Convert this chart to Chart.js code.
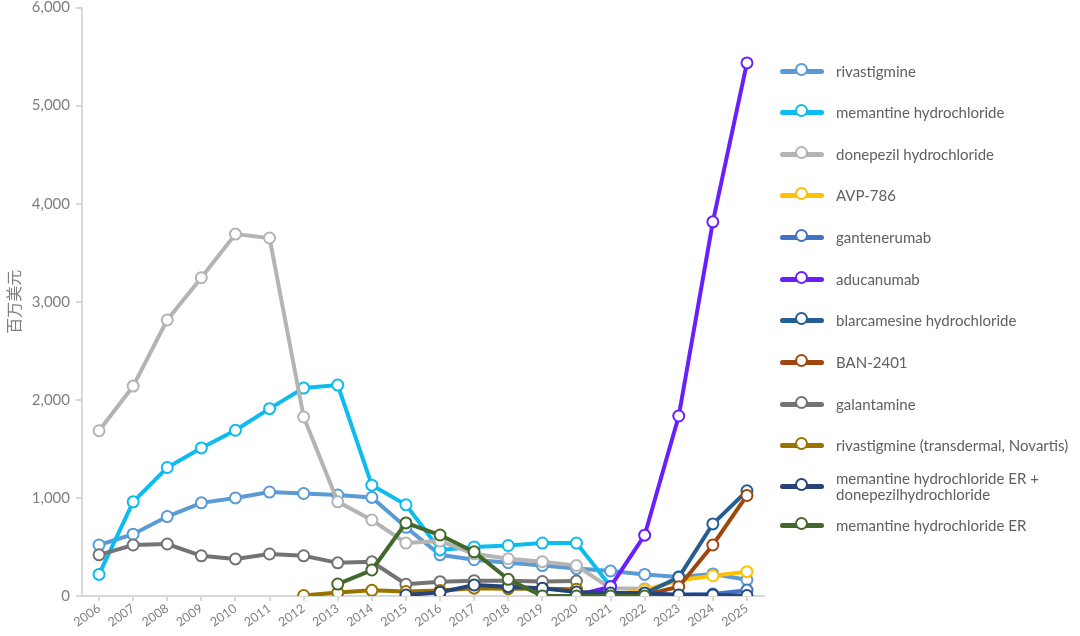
<!DOCTYPE html>
<html>
<head>
<meta charset="utf-8">
<script src="https://cdn.jsdelivr.net/npm/chart.js@4"></script>
<style>
    body { margin: 0; background: #fff; }
    #wrap { position: relative; width: 1080px; height: 636px; }
    #legend { position: absolute; left: 780px; top: 0; font-family: Lato, "Open Sans", sans-serif; font-size: 15px; color: #606060; }
    .item { position: absolute; left: 0; width: 300px; height: 16px; display: flex; align-items: center; }
    .mark { position: relative; width: 44px; height: 5px; border-radius: 3px; flex: none; }
    .mark span { position: absolute; left: 16px; top: -4.5px; width: 13px; height: 13px; margin: -1.5px 0 0 -1.5px; border-radius: 50%; background: #fff; border: 2px solid; box-sizing: border-box; }
    .label { margin-left: 12px; line-height: 16px; }
</style>
</head>
<body>
<div id="wrap">
    <canvas id="chart" width="1080" height="636"></canvas>
    <div id="legend"></div>
</div>
<script>
// Chart data
const years = ['2006', '2007', '2008', '2009', '2010', '2011', '2012', '2013', '2014', '2015',
    '2016', '2017', '2018', '2019', '2020', '2021', '2022', '2023', '2024', '2025'];

const rivastigmine = [520, 630, 810, 950, 1000, 1060, 1045, 1030, 1005, 700, 420, 370, 340, 310, 280, 255, 220, 195, 225, 165];
const memantine = [220, 960, 1310, 1510, 1690, 1910, 2120, 2150, 1130, 930, 470, 500, 515, 540, 540, 100, null, null, null, null];
const donepezil = [1685, 2140, 2815, 3245, 3690, 3650, 1825, 960, 775, 540, 560, 430, 380, 350, 310, 80, 75, null, null, null];
const avp786 = [null, null, null, null, null, null, null, null, null, null, null, null, null, null, null, 10, 60, 160, 207, 248];
const gantenerumab = [null, null, null, null, null, null, null, null, null, null, null, null, null, null, null, 5, 10, 15, 20, 60];
const aducanumab = [null, null, null, null, null, null, null, null, null, null, null, null, null, null, 5, 95, 620, 1835, 3815, 5435];
const blarcamesine = [null, null, null, null, null, null, null, null, null, null, null, null, null, null, null, null, 25, 190, 735, 1072];
const ban2401 = [null, null, null, null, null, null, null, null, null, null, null, null, null, null, null, null, 10, 95, 520, 1025];
const galantamine = [420, 520, 530, 410, 378, 428, 410, 338, 348, 120, 146, 156, 156, 148, 152, null, null, null, null, null];
const rivaTransdermal = [null, null, null, null, null, null, 5, 35, 58, 45, 55, 80, 75, 75, 70, null, null, null, null, null];
const memErDonepezil = [null, null, null, null, null, null, null, null, null, 10, 37, 112, 95, 78, 40, 30, 30, 10, 10, 5];
const memantineEr = [null, null, null, null, null, null, null, 122, 265, 745, 622, 450, 170, 0, 0, 0, 0, null, null, null];

const yTicks = [0, 1000, 2000, 3000, 4000, 5000, 6000];

const series = [
    { name: 'rivastigmine', data: rivastigmine, color: '#5B9BD5' },
    { name: 'memantine hydrochloride', data: memantine, color: '#0CBCEE' },
    { name: 'donepezil hydrochloride', data: donepezil, color: '#B4B4B4' },
    { name: 'AVP-786', data: avp786, color: '#FFC000' },
    { name: 'gantenerumab', data: gantenerumab, color: '#4472C4' },
    { name: 'aducanumab', data: aducanumab, color: '#6A1FFF' },
    { name: 'blarcamesine hydrochloride', data: blarcamesine, color: '#255E91' },
    { name: 'BAN-2401', data: ban2401, color: '#9E480E' },
    { name: 'galantamine', data: galantamine, color: '#737373' },
    { name: 'rivastigmine (transdermal, Novartis)', data: rivaTransdermal, color: '#997300' },
    { name: 'memantine hydrochloride ER +<br>donepezilhydrochloride', data: memErDonepezil, color: '#264478' },
    { name: 'memantine hydrochloride ER', data: memantineEr, color: '#43682B' }
];

const legendTops = [71, 112, 154, 195, 237, 279, 320, 362, 404, 445, 486, 525];

// Build the legend on the right
function buildLegend() {
    const legend = document.getElementById('legend');
    legend.innerHTML = series.map((s, i) => `
        <div class="item" style="top:${legendTops[i] - 8}px">
            <div class="mark" style="background:${s.color}"><span style="border-color:${s.color}"></span></div>
            <div class="label">${s.name}</div>
        </div>
    `).join('');
}

const grey = '#7F7F7F';
const axisColor = '#D9D9D9';

const ctx = document.getElementById('chart').getContext('2d');
new Chart(ctx, {
    type: 'line',
    data: {
        labels: years,
        datasets: series.map((s, i) => ({
            label: s.name,
            data: s.data,
            borderColor: s.color,
            backgroundColor: '#fff',
            borderWidth: 4,
            pointRadius: 5.5,
            pointBorderWidth: 2,
            pointBackgroundColor: '#fff',
            pointBorderColor: s.color,
            tension: 0,
            order: series.length - i
        }))
    },
    options: {
        responsive: false,
        animation: false,
        layout: { padding: { top: 7, right: 316, left: 4, bottom: 0 } },
        plugins: { legend: { display: false }, tooltip: { enabled: false } },
        scales: {
            x: {
                offset: true,
                grid: { display: true, drawOnChartArea: false, drawTicks: true, tickLength: 5, color: axisColor, lineWidth: 2 },
                border: { color: axisColor, width: 2 },
                ticks: {
                    color: grey,
                    font: { family: 'Lato', size: 12.5 },
                    minRotation: 35,
                    maxRotation: 35,
                    autoSkip: false,
                    padding: 0
                },
                afterFit: scale => { scale.height = 40; }
            },
            y: {
                min: 0,
                max: 6000,
                afterBuildTicks: scale => { scale.ticks = yTicks.map(v => ({ value: v })); },
                grid: { display: true, drawOnChartArea: false, drawTicks: true, tickLength: 6, color: axisColor, lineWidth: 2 },
                border: { color: axisColor, width: 2 },
                ticks: {
                    color: grey,
                    font: { family: 'Lato', size: 15 },
                    padding: 6,
                    callback: v => v.toLocaleString('en-US')
                },
                title: {
                    display: true,
                    text: '百万美元',
                    color: grey,
                    font: { family: '"Noto Sans CJK SC"', size: 16 },
                    padding: { top: 0, bottom: 0 }
                },
                afterFit: scale => {
                    scale.width = 78;
                    scale.paddingTop = 0;
                    scale.paddingBottom = 0;
                }
            }
        }
    }
});

buildLegend();
</script>
</body>
</html>
